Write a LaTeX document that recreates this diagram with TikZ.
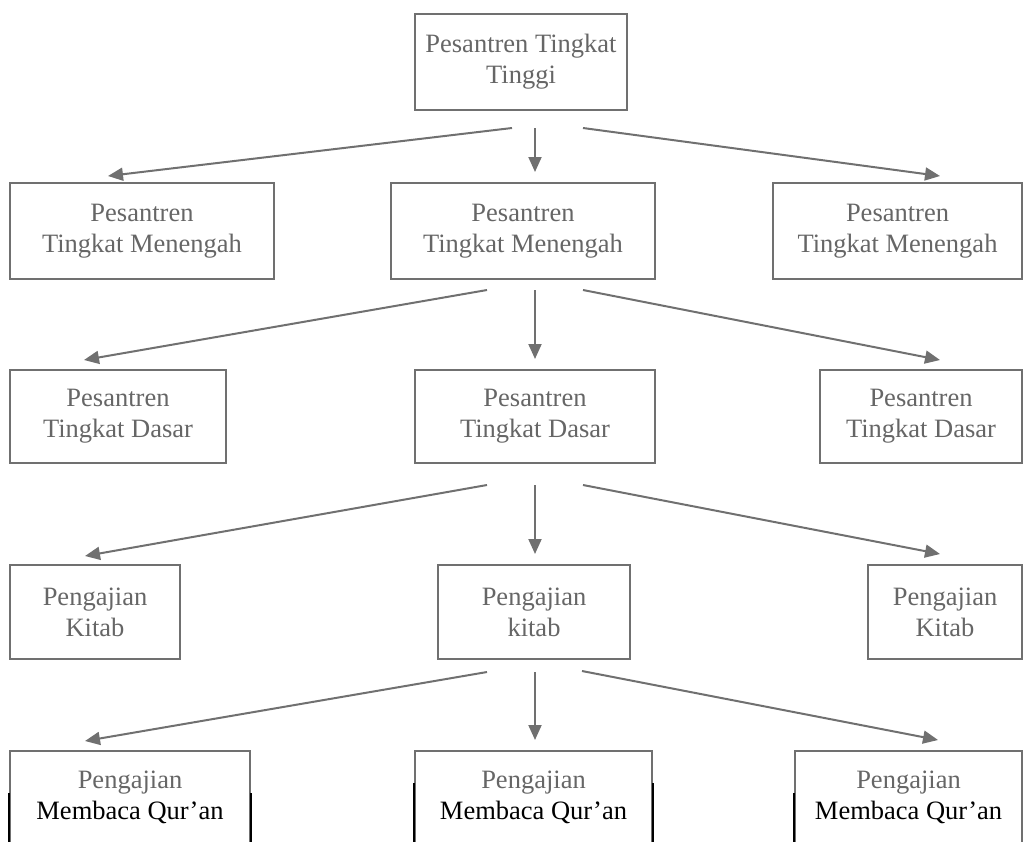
\documentclass[tikz,border=0pt]{standalone}
\usepackage{fontspec}
\setmainfont{Liberation Serif}
\usetikzlibrary{arrows.meta}
\definecolor{txtgray}{HTML}{666666}
\definecolor{linegray}{HTML}{707070}
\tikzset{
  box/.style={draw=linegray, line width=2pt, align=center, inner sep=0pt,
    text=txtgray, font=\fontsize{26.5}{31}\selectfont},
  arr/.style={draw=linegray, line width=2pt,
    -{Triangle[length=15pt,width=13pt]}},
  blk/.style={draw=black, line width=2pt}
}
\begin{document}
\begin{tikzpicture}[x=1pt,y=-1pt]
\useasboundingbox (0,0) rectangle (1024,841);
\clip (0,0) rectangle (1024,841);
% row 1
\node[box, minimum width=212pt, minimum height=96pt] (T) at (521,62) {Pesantren Tingkat\\Tinggi};
% row 2
\node[box, minimum width=264pt, minimum height=96pt] (L2) at (142,231) {Pesantren\\Tingkat Menengah};
\node[box, minimum width=264pt, minimum height=96pt] (M2) at (523,231) {Pesantren\\Tingkat Menengah};
\node[box, minimum width=249pt, minimum height=96pt] (R2) at (897.5,231) {Pesantren\\Tingkat Menengah};
% row 3
\node[box, minimum width=216pt, minimum height=93pt] (L3) at (118,416.5) {Pesantren\\Tingkat Dasar};
\node[box, minimum width=240pt, minimum height=93pt] (M3) at (535,416.5) {Pesantren\\Tingkat Dasar};
\node[box, minimum width=202pt, minimum height=93pt] (R3) at (921,416.5) {Pesantren\\Tingkat Dasar};
% row 4
\node[box, minimum width=170pt, minimum height=94pt] (L4) at (95,612) {Pengajian\\Kitab};
\node[box, minimum width=192pt, minimum height=94pt] (M4) at (534,612) {Pengajian\\kitab};
\node[box, minimum width=154pt, minimum height=94pt] (R4) at (945,612) {Pengajian\\Kitab};
% row 5
\node[box, minimum width=240pt, minimum height=92pt] (L5) at (130,797) {Pengajian\\\textcolor{black}{Membaca Qur’an}};
\node[box, minimum width=237pt, minimum height=92pt] (M5) at (533.5,797) {Pengajian\\\textcolor{black}{Membaca Qur’an}};
\node[box, minimum width=227pt, minimum height=92pt] (R5) at (908.5,797) {Pengajian\\\textcolor{black}{Membaca Qur’an}};
\draw[blk] ([shift={(0,-4)}]L5.west) -- (L5.south west);
\draw[blk] ([shift={(0,-4)}]L5.east) -- (L5.south east);
\draw[blk] ([shift={(0,-14)}]M5.west) -- (M5.south west);
\draw[blk] ([shift={(0,-14)}]M5.east) -- (M5.south east);
\draw[blk] ([shift={(0,-4)}]R5.west) -- (R5.south west);
% arrows row 1 -> 2
\draw[arr] ([shift={(-9,17)}]T.south) -- ([shift={(-34,-6)}]L2.north);
\draw[arr] ([shift={(14,17)}]T.south) -- ([shift={(12,-10)}]M2.north);
\draw[arr] ([shift={(62,17)}]T.south) -- ([shift={(42.5,-6)}]R2.north);
% arrows row 2 -> 3
\draw[arr] ([shift={(-36,10)}]M2.south) -- ([shift={(-34,-9)}]L3.north);
\draw[arr] ([shift={(12,10)}]M2.south) -- ([shift={(0,-10)}]M3.north);
\draw[arr] ([shift={(60,10)}]M2.south) -- ([shift={(19,-9)}]R3.north);
% arrows row 3 -> 4
\draw[arr] ([shift={(-48,21)}]M3.south) -- ([shift={(-10,-8)}]L4.north);
\draw[arr] ([shift={(0,21)}]M3.south) -- ([shift={(1,-10)}]M4.north);
\draw[arr] ([shift={(48,21)}]M3.south) -- ([shift={(-5,-10)}]R4.north);
% arrows row 4 -> 5
\draw[arr] ([shift={(-47,12)}]M4.south) -- ([shift={(-45,-9)}]L5.north);
\draw[arr] ([shift={(1,12)}]M4.south) -- ([shift={(1.5,-10)}]M5.north);
\draw[arr] ([shift={(48,11)}]M4.south) -- ([shift={(29.5,-10)}]R5.north);
\end{tikzpicture}
\end{document}
